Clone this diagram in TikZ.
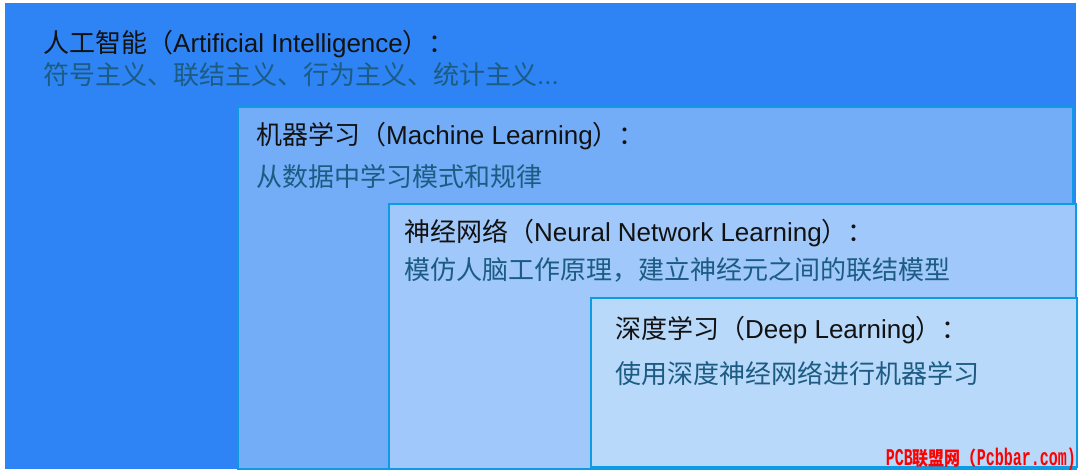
\documentclass[tikz,border=0pt]{standalone}
\usepackage{fontspec}
\setmainfont{Liberation Sans}
\newfontfamily\cjk{Noto Sans CJK SC}
\newfontfamily\wmfont{Liberation Mono}
\definecolor{aiblue}{HTML}{2E84F5}
\definecolor{mlblue}{HTML}{73ADF8}
\definecolor{nnblue}{HTML}{A0C8FB}
\definecolor{dlblue}{HTML}{B9D9FA}
\definecolor{edgeblue}{HTML}{0D9BE4}
\definecolor{subtxt}{HTML}{1C5B82}
\definecolor{wmred}{HTML}{FF0000}
\begin{document}
\begin{tikzpicture}[x=1pt,y=-1pt,
  layer/.style={rectangle, inner sep=0pt, outer sep=0pt, anchor=north west},
  nested/.style={layer, draw=edgeblue, line width=2pt},
  titletext/.style={inner sep=0pt, anchor=base west, text=black!93, font=\fontsize{26}{30}\selectfont},
  subtext/.style={inner sep=0pt, anchor=base west, text=subtxt, font=\fontsize{26}{30}\selectfont},
  wmtext/.style={inner sep=0pt, anchor=base east, text=wmred}]
\useasboundingbox (0,0) rectangle (1080,471);
\fill[white] (0,0) rectangle (1080,471);
% boxes
\node[layer, fill=aiblue, minimum width=1071pt, minimum height=466pt] (ai) at (5,3) {};
\node[nested, fill=mlblue, minimum width=835.5pt, minimum height=362pt] (ml) at (237.5,107) {};
\node[nested, fill=nnblue, minimum width=687.5pt, minimum height=265pt] (nn) at (388.5,204) {};
\node[nested, fill=dlblue, minimum width=486pt, minimum height=169pt] (dl) at (591,298) {};
% texts
\node[titletext] (aiT) at (43,52) {{\cjk 人工智能（}Artificial Intelligence{\cjk ）：}};
\node[subtext] (aiS) at (43,84) {{\cjk 符号主义、联结主义、行为主义、统计主义}...};
\node[titletext] (mlT) at (256,144) {{\cjk 机器学习（}Machine Learning{\cjk ）：}};
\node[subtext] (mlS) at (256,186) {\cjk 从数据中学习模式和规律};
\node[titletext] (nnT) at (404,241) {{\cjk 神经网络（}Neural Network Learning{\cjk ）：}};
\node[subtext] (nnS) at (404,279) {\cjk 模仿人脑工作原理，建立神经元之间的联结模型};
\node[titletext] (dlT) at (615,338) {{\cjk 深度学习（}Deep Learning{\cjk ）：}};
\node[subtext] (dlS) at (615,383) {\cjk 使用深度神经网络进行机器学习};
% watermark
\node[wmtext] (wm) at (1076,465) {\scalebox{1}[1.6]{\wmfont\bfseries\fontsize{15}{18}\selectfont PCB}\scalebox{1}[1.2]{\cjk\bfseries\fontsize{16}{18}\selectfont 联盟网（}\scalebox{1}[1.6]{\wmfont\bfseries\fontsize{15}{18}\selectfont Pcbbar.com)}};
\end{tikzpicture}
\end{document}
